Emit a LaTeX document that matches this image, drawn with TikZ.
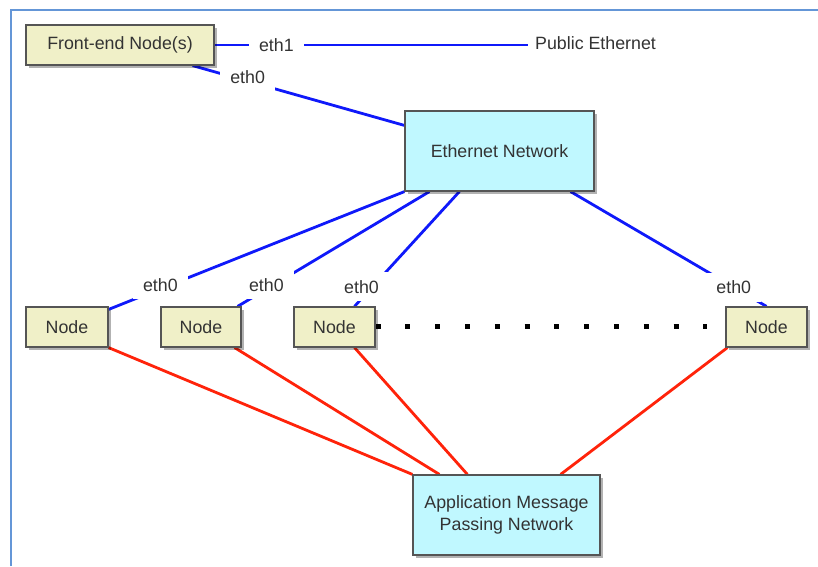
\documentclass[tikz,border=0pt]{standalone}
\usepackage{fontspec}
\setmainfont{Liberation Sans}
\usetikzlibrary{shadows,backgrounds}
\definecolor{boxY}{RGB}{240,240,200}
\definecolor{boxC}{RGB}{192,248,255}
\definecolor{bord}{RGB}{85,85,85}
\definecolor{txt}{RGB}{51,51,51}
\definecolor{eblue}{RGB}{15,25,250}
\definecolor{ered}{RGB}{255,35,10}
\definecolor{frameblue}{RGB}{100,150,215}
\begin{document}
\begin{tikzpicture}[x=1pt,y=-1pt, font=\fontsize{17.8}{22}\selectfont,
  box/.style={draw=bord, line width=1.2pt, text=txt, inner sep=0pt,
    drop shadow={shadow xshift=3pt, shadow yshift=-3pt, opacity=0.3, fill=black}},
  ybox/.style={box, fill=boxY},
  cbox/.style={box, fill=boxC},
  eline/.style={eblue, line width=2.8pt},
  rline/.style={ered, line width=2.8pt},
  lbl/.style={fill=white, text=txt, inner xsep=10pt, inner ysep=8pt},
  dotline/.style={black, line width=5pt, dash pattern=on 5pt off 24.8pt}
  ]
\useasboundingbox (0,0) rectangle (818,566);
\draw[frameblue, line width=2pt] (11,566) -- (11,10) -- (818,10);

\node[ybox, minimum width=188pt, minimum height=40pt] (fe) at (120,45) {Front-end Node(s)};
\node[cbox, minimum width=189pt, minimum height=80pt] (en) at (499.5,151) {Ethernet Network};
\node[ybox, minimum width=82pt, minimum height=40pt] (n1) at (67,327) {Node};
\node[ybox, minimum width=80pt, minimum height=40pt] (n2) at (201,327) {Node};
\node[ybox, minimum width=81pt, minimum height=40pt] (n3) at (334.5,327) {Node};
\node[ybox, minimum width=81pt, minimum height=40pt] (n4) at (766.5,327) {Node};
\node[cbox, minimum width=187pt, minimum height=80pt, align=center] (app) at (506.5,515) {Application Message\\Passing Network};
\node[text=txt, anchor=west, inner sep=0pt] (pub) at (535,43) {Public Ethernet};

\begin{scope}[on background layer]
\fill[white] (0,0) rectangle (818,566);
\draw[eline] (fe.east) -- node[lbl, pos=0.197]{eth1} ([xshift=-7pt]fe.east -| pub.west);
\draw[eline] ([xshift=-22pt]fe.south east) -- node[lbl, pos=0.26, yshift=4pt]{eth0} ([yshift=-15pt]en.north west);
\draw[eline] (en.south west) -- node[lbl, pos=0.825, yshift=4pt]{eth0} ([yshift=-3pt]n1.north east);
\draw[eline] ([xshift=25pt]en.south west) -- node[lbl, pos=0.85, yshift=4.5pt]{eth0} ([xshift=-4pt]n2.north east);
\draw[eline] ([xshift=55pt]en.south west) -- node[lbl, pos=0.933, yshift=12pt]{eth0} ([xshift=20pt]n3.north);
\draw[eline] ([xshift=-24pt]en.south east) -- node[lbl, pos=0.833]{eth0} (n4.north);

\draw[rline] (n1.south east) -- (app.north west);
\draw[rline] ([xshift=-7pt]n2.south east) -- ([xshift=27pt]app.north west);
\draw[rline] ([xshift=20pt]n3.south) -- ([xshift=55pt]app.north west);
\draw[rline] ([xshift=2pt]n4.south west) -- ([xshift=-40pt]app.north east);

\draw[dotline] ([yshift=1pt]n3.east) -- ([xshift=-18pt, yshift=1pt]n4.west);
\end{scope}
\end{tikzpicture}
\end{document}
